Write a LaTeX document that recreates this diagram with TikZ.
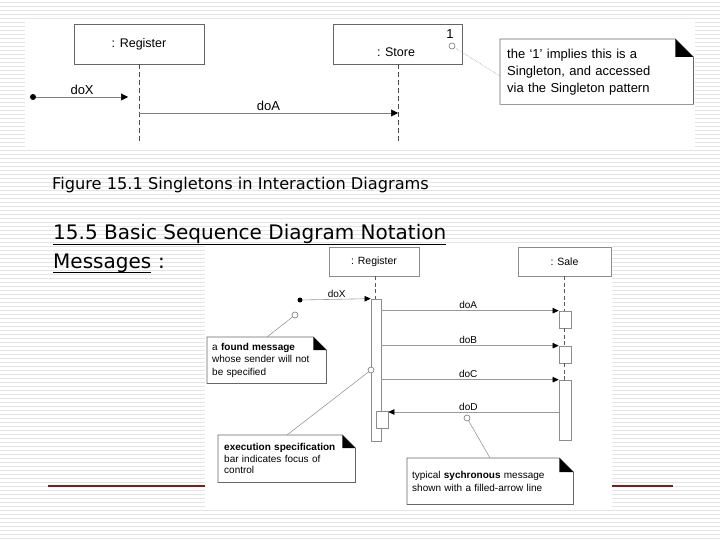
\documentclass[tikz,border=0pt]{standalone}
\usepackage{fontspec}
\setmainfont{Liberation Sans}
\newfontfamily\capfont{DejaVu Sans}
\usetikzlibrary{arrows.meta}
\newcommand\umlnote[2]{%
  \draw[noteline] (#1.north west) -- ([xshift=-#2]#1.north east) -- ([yshift=-#2]#1.north east) -- (#1.south east) -- (#1.south west) -- cycle;
  \fill[black] ([xshift=-#2]#1.north east) -- ([xshift=-#2,yshift=-#2]#1.north east) -- ([yshift=-#2]#1.north east) -- cycle;}
\begin{document}
\begin{tikzpicture}[x=1pt,y=-1pt,
  stripe/.style={draw=black!10, line width=0.7pt},
  imgbg/.style={fill=white, draw=none},
  objbox/.style={draw=black!60, line width=0.8pt, fill=white, inner sep=0pt},
  objboxs/.style={draw=black!45, line width=0.7pt, fill=white, inner sep=0pt},
  lifeline/.style={draw=black!70, dash pattern=on 5pt off 3pt, line width=1pt},
  lifelines/.style={draw=black!65, dash pattern=on 4pt off 2.5pt, line width=0.7pt},
  msg/.style={draw=black!50, line width=0.6pt, -{Triangle[length=7pt,width=7pt,color=black]}},
  msgs/.style={draw=black!40, line width=0.6pt, -{Triangle[length=6pt,width=5.5pt,color=black]}},
  bar/.style={draw=black!45, line width=0.7pt, fill=white},
  noteline/.style={draw=black!60, line width=0.7pt},
  note/.style={anchor=north west, inner ysep=0pt, align=left},
  lbl/.style={font=\fontsize{13}{15}\selectfont, inner sep=1pt},
  lbls/.style={font=\fontsize{10}{12}\selectfont, inner sep=1pt},
  foundot/.style={circle, fill=black, inner sep=0pt, minimum size=6pt},
  ring/.style={circle, draw=black!55, fill=white, line width=0.6pt, inner sep=0pt, minimum size=6pt},
  pointer/.style={draw=black!45, line width=0.5pt},
  redline/.style={draw={rgb,255:red,130;green,25;blue,35}, line width=1.2pt}
]
\useasboundingbox (0,0) rectangle (720,540);
\fill[white] (0,0) rectangle (720,540);
% background stripes
\foreach \y in {2,6,...,538} {\draw[stripe] (0,\y) -- (720,\y);}
% red slide line
\draw[redline] (48,486) -- (673,486);
% embedded image backgrounds
\fill[imgbg] (25,22) rectangle (695,148);
\fill[imgbg] (205,244) rectangle (612,508);

% ---------------- top diagram ----------------
\node[objbox, minimum width=130pt, minimum height=40pt, font=\fontsize{12.5}{15}\selectfont] (reg1) at (139,44) {: Register};
\node[objbox, minimum width=129pt, minimum height=40pt] (store1) at (397.5,44) {};
\node[lbl, font=\fontsize{12.5}{15}\selectfont] (storet) at (396,52) {: Store};
\node[lbl] (one) at (450,34) {1};
\node[ring] (ring1) at (452,46) {};
\coordinate (reg1end) at (139,142);
\coordinate (store1end) at (398,142);
\draw[lifeline] (reg1.south) -- (reg1end);
\draw[lifeline] (store1.south -| store1end) -- (store1end);
\node[foundot] (dotx) at (33,97) {};
\coordinate (dxend) at (128,97);
\draw[msg] (dotx) -- (dxend) node[lbl, midway, above=1pt] {doX};
\coordinate (dastart) at (139,113);
\coordinate (daend) at (398,113);
\draw[msg] (dastart) -- (daend) node[lbl, midway, above=1pt] {doA};
\node[note, minimum width=193pt, minimum height=65pt, inner xsep=7pt, text width=179pt,
      font=\fontsize{13}{17}\selectfont] (note1) at (500,39)
  {the ‘1’ implies this is a\\Singleton, and accessed\\via the Singleton pattern};
\umlnote{note1}{18pt}
\draw[pointer, densely dotted] (ring1) -- (note1.west |- 0,76);

% ---------------- texts ----------------
\node[anchor=base west, inner sep=0pt, font=\capfont\fontsize{16.2}{18}\selectfont] (cap) at (52,190)
  {Figure 15.1 Singletons in Interaction Diagrams};
\node[anchor=base west, inner sep=0pt, font=\capfont\fontsize{20}{22}\selectfont] (head) at (53,240)
  {15.5 Basic Sequence Diagram Notation};
\draw[line width=1pt] (head.west |- 0,244) -- (head.east |- 0,244);
\node[anchor=base west, inner sep=0pt, font=\capfont\fontsize{20}{22}\selectfont] (msgw) at (53,268)
  {Messages};
\node[anchor=base west, inner sep=0pt, font=\capfont\fontsize{20}{22}\selectfont] (colon) at (msgw.base east) {\ :};
\draw[line width=1pt] (msgw.west |- 0,272) -- (msgw.east |- 0,272);

% ---------------- bottom diagram ----------------
\node[objboxs, minimum width=90pt, minimum height=29pt, font=\fontsize{10.5}{12}\selectfont] (reg2) at (374,261.5) {: Register};
\node[objboxs, minimum width=93pt, minimum height=29pt, font=\fontsize{10.5}{12}\selectfont] (sale) at (564.5,261.5) {: Sale};
% register activation
\draw[lifelines] (375,276) -- (375,299);
\node[bar, minimum width=10pt, minimum height=142pt, inner sep=0pt] (rbar) at (376,370) {};
\node[bar, minimum width=12pt, minimum height=17pt, inner sep=0pt] (rbar2) at (382,419.5) {};
% sale lifeline and bars
\draw[lifelines] (sale.south -| 564,0) -- (564,311);
\node[bar, minimum width=12pt, minimum height=17pt, inner sep=0pt] (sbarA) at (565,319.5) {};
\node[bar, minimum width=12pt, minimum height=17pt, inner sep=0pt] (sbarB) at (565,354.5) {};
\node[bar, minimum width=12pt, minimum height=60pt, inner sep=0pt] (sbarC) at (565,410) {};
\draw[lifelines] (sbarA.south -| 564,0) -- (sbarB.north -| 564,0);
\draw[lifelines] (sbarB.south -| 564,0) -- (sbarC.north -| 564,0);
% messages
\node[foundot, minimum size=5pt] (dot2) at (300,300) {};
\draw[msgs] (dot2) -- (rbar.north west) node[lbls, midway, above=0.5pt] {doX};
\draw[msgs] (rbar.east |- sbarA.north) -- (sbarA.north west) node[lbls, pos=0.49, above=0.5pt] {doA};
\draw[msgs] (rbar.east |- sbarB.north) -- (sbarB.north west) node[lbls, pos=0.49, above=0.5pt] {doB};
\draw[msgs] (rbar.east |- sbarC.north) -- (sbarC.north west) node[lbls, pos=0.49, above=0.5pt] {doC};
\draw[msgs] (sbarC.west |- 0,412) -- (rbar2.east |- 0,412) node[lbls, pos=0.53, above=0.5pt] {doD};
% notes
\node[note, minimum width=119pt, minimum height=46pt, inner xsep=5pt, text width=109pt,
      font=\fontsize{10}{12.5}\selectfont] (nfound) at (207,337)
  {a \textbf{found message}\\whose sender will not\\be specified};
\umlnote{nfound}{13pt}
\node[ring, minimum size=6pt] (ringf) at (295,315) {};
\draw[pointer] (ringf) -- (267,337);

\node[note, minimum width=137pt, minimum height=47pt, inner xsep=6pt, text width=125pt,
      font=\fontsize{10}{11.5}\selectfont] (nexec) at (218,435)
  {\textbf{execution specification}\\bar indicates focus of\\control};
\umlnote{nexec}{13pt}
\node[ring, minimum size=6pt] (ringe) at (371,370) {};
\draw[pointer] (ringe) -- (287,435);

\node[note, minimum width=166pt, minimum height=46pt, inner xsep=5pt, text width=156pt,
      font=\fontsize{10}{13}\selectfont] (nsync) at (407,458)
  {typical \textbf{sychronous} message\\shown with a filled-arrow line};
\umlnote{nsync}{14pt}
\node[ring, minimum size=6pt] (rings) at (467,418) {};
\draw[pointer] (rings) -- (490,458);
\end{tikzpicture}
\end{document}
